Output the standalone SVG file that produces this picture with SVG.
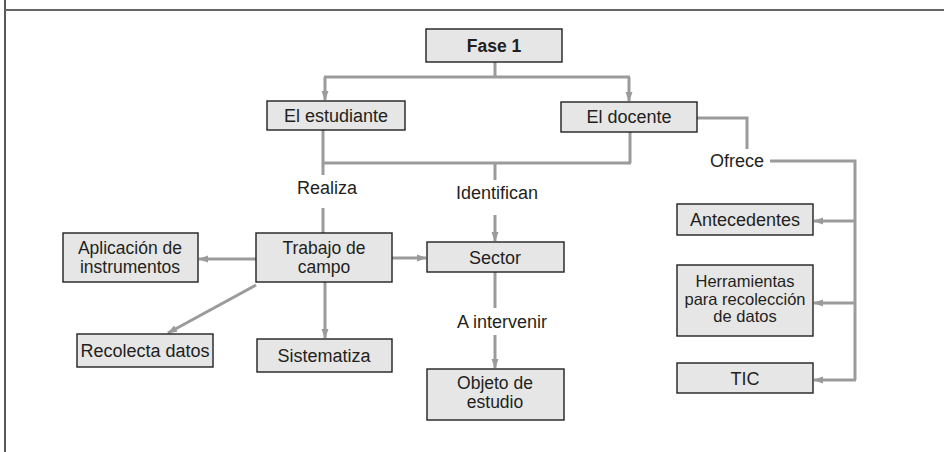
<svg xmlns="http://www.w3.org/2000/svg" width="944" height="452" viewBox="0 0 944 452">
<style>
.box{fill:#e6e6e6;stroke:#231f20;stroke-width:1.4}
.t{font-family:"Liberation Sans",Arial,sans-serif;font-size:18px;fill:#231f20;text-anchor:middle}
.m{font-size:17.5px}
.s{font-size:16.5px}
.b{font-weight:bold;font-size:17.5px}
.c{fill:none;stroke:#9b9b9b;stroke-width:3}
.a{fill:none;stroke:#9b9b9b;stroke-width:3;marker-end:url(#ah)}
</style>
<defs>
<marker id="ah" markerUnits="userSpaceOnUse" markerWidth="10" markerHeight="10" viewBox="0 0 10 10" refX="9" refY="5" orient="auto">
<path d="M0,1.5 L10,5 L0,8.5 Z" fill="#9b9b9b"/>
</marker>
</defs>
<rect width="944" height="452" fill="#fff"/>
<g id="frame">
<line x1="5" y1="0" x2="5" y2="452" stroke="#222" stroke-width="1.5"/>
<line x1="5" y1="10" x2="944" y2="10" stroke="#666" stroke-width="2"/>
</g>
<g id="connectors">
<path class="c" d="M495 62 V77 M324 77 H630"/>
<path class="a" d="M325 77 V100"/>
<path class="a" d="M629 77 V101"/>
<path class="c" d="M323 130 V175 M323 163 H631 M630 132 V163"/>
<path class="c" d="M323 208 V233"/>
<path class="c" d="M495 163 V180"/>
<path class="a" d="M495 215 V241"/>
<path class="a" d="M392 258 H426"/>
<path class="a" d="M256 259 H199"/>
<path class="a" d="M256 285 L168 333"/>
<path class="a" d="M325 282 V338"/>
<path class="c" d="M495 272 V308"/>
<path class="a" d="M495 335 V368"/>
<path class="c" d="M697 118 H747 V149 M770 161 H855 V380"/>
<path class="a" d="M856 380 H814"/>
<path class="a" d="M855 221 H814"/>
<path class="a" d="M855 303 H814"/>
</g>
<g id="labels">
<text class="t" x="327" y="194">Realiza</text>
<text class="t" x="497" y="199">Identifican</text>
<text class="t" x="502" y="328">A intervenir</text>
<text class="t" x="737" y="167">Ofrece</text>
</g>
<g id="fase1"><rect class="box" x="426" y="29" width="136" height="33"/><text class="t b" x="494" y="52">Fase 1</text></g>
<g id="estudiante"><rect class="box" x="267" y="101" width="138" height="29"/><text class="t" x="336" y="122">El estudiante</text></g>
<g id="docente"><rect class="box" x="561" y="102" width="136" height="30"/><text class="t" x="629" y="123">El docente</text></g>
<g id="trabajo"><rect class="box" x="256" y="233" width="136" height="49"/><text class="t m" x="324" y="254">Trabajo de</text><text class="t m" x="324" y="273">campo</text></g>
<g id="aplicacion"><rect class="box" x="63" y="233" width="135" height="49"/><text class="t m" x="130" y="254">Aplicación de</text><text class="t m" x="130" y="273">instrumentos</text></g>
<g id="recolecta"><rect class="box" x="77" y="334" width="136" height="33"/><text class="t" x="145" y="357">Recolecta datos</text></g>
<g id="sistematiza"><rect class="box" x="257" y="339" width="135" height="33"/><text class="t" x="324" y="362">Sistematiza</text></g>
<g id="sector"><rect class="box" x="427" y="242" width="137" height="30"/><text class="t" x="495" y="264">Sector</text></g>
<g id="objeto"><rect class="box" x="427" y="369" width="137" height="51"/><text class="t m" x="495" y="389">Objeto de</text><text class="t m" x="495" y="408">estudio</text></g>
<g id="antecedentes"><rect class="box" x="677" y="204" width="136" height="31"/><text class="t" x="745" y="226">Antecedentes</text></g>
<g id="herramientas"><rect class="box" x="677" y="265" width="136" height="71"/><text class="t s" x="745" y="287">Herramientas</text><text class="t s" x="745" y="304.5">para recolección</text><text class="t s" x="745" y="322">de datos</text></g>
<g id="tic"><rect class="box" x="677" y="363" width="136" height="30"/><text class="t" x="745" y="385">TIC</text></g>
</svg>
